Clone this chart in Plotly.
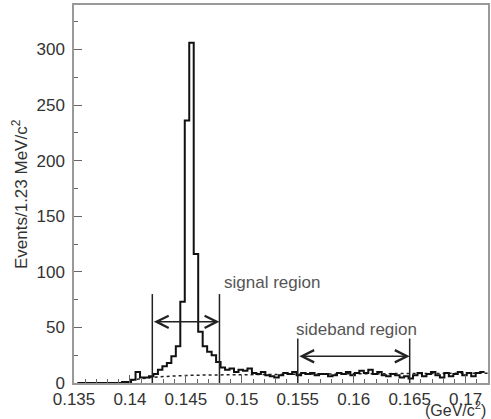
import plotly.graph_objects as go

# Histogram of the D*-D0 mass difference, 0.4 MeV bins
bin_start = 0.1353
bin_width = 0.0004
counts = [
    0, 0, 0, 0, 0, 0, 0, 0, 0, 0,
    1, 1, 3, 10, 5, 5, 6, 8, 12, 15,
    18, 24, 33, 73, 236, 306, 116, 46, 33, 28,
    25, 19, 14, 12, 13, 10, 12, 11, 13, 9,
    8, 10, 7, 6, 5, 7, 9, 8, 10, 7,
    9, 8, 9, 7, 8, 8, 6, 7, 9, 8,
    10, 7, 9, 11, 9, 12, 8, 10, 7, 6,
    8, 7, 5, 6, 4, 7, 9, 6, 8, 10,
    7, 5, 9, 6, 8, 10, 7, 9, 6, 9,
    10,
]

# Background fit (dashed)
bkg_x = [0.1396, 0.1400, 0.1405, 0.1410, 0.1420, 0.1430, 0.1440, 0.1450,
         0.1470, 0.1500, 0.1550, 0.1600, 0.1650, 0.1700, 0.1720]
bkg_y = [0.0, 2.0, 3.2, 4.0, 5.0, 5.8, 6.4, 6.8, 7.2, 7.6, 8.0, 8.3, 8.5, 8.7, 8.8]

# Selection windows
signal_lo, signal_hi = 0.142, 0.148
sideband_lo, sideband_hi = 0.155, 0.165
signal_line_top, signal_arrow_y = 80, 55
sideband_line_top, sideband_arrow_y = 40, 24

x_range = [0.135, 0.172]
y_range = [0, 340]
x_ticks = [0.135, 0.14, 0.145, 0.15, 0.155, 0.16, 0.165, 0.17]
x_tick_text = ["0.135", "0.14", "0.145", "0.15", "0.155", "0.16", "0.165", "0.17"]
y_ticks = [0, 50, 100, 150, 200, 250, 300]

edges = [bin_start + bin_width * i for i in range(len(counts) + 1)]
step_x = [edges[0]] + edges
step_y = [0] + counts + [counts[-1]]

fig = go.Figure()
fig.add_trace(go.Scatter(
    x=bkg_x, y=bkg_y, mode="lines",
    line=dict(color="#222", width=1.5, dash="3px,3px"),
    hoverinfo="skip",
))
fig.add_trace(go.Scatter(
    x=step_x, y=step_y, mode="lines", line_shape="hv",
    line=dict(color="#111", width=2),
))

# Vertical window edges
for xv, top in [(signal_lo, signal_line_top), (signal_hi, signal_line_top),
                (sideband_lo, sideband_line_top), (sideband_hi, sideband_line_top)]:
    fig.add_shape(type="line", x0=xv, x1=xv, y0=0, y1=top, xref="x", yref="y",
                  line=dict(color="#222", width=1.5))

# Double-headed arrows
for lo, hi, yv in [(signal_lo, signal_hi, signal_arrow_y),
                   (sideband_lo, sideband_hi, sideband_arrow_y)]:
    fig.add_annotation(x=hi, y=yv, ax=lo, ay=yv, xref="x", yref="y",
                       axref="x", ayref="y", text="", showarrow=True,
                       arrowhead=5, startarrowhead=5, arrowside="end+start",
                       arrowsize=1.6, startarrowsize=1.6, arrowwidth=1.5,
                       arrowcolor="#222")

label_font = dict(family="Liberation Sans, Arial, sans-serif", size=17, color="#555")
fig.add_annotation(x=0.1482, y=90, xref="x", yref="y", text="signal region",
                   showarrow=False, xanchor="left", yanchor="middle", font=label_font)
fig.add_annotation(x=0.1547, y=48, xref="x", yref="y", text="sideband region",
                   showarrow=False, xanchor="left", yanchor="middle", font=label_font)

axis_font = dict(family="Liberation Sans, Arial, sans-serif", size=17, color="#333")
fig.add_annotation(x=1, y=0, xref="paper", yref="paper", yshift=-14,
                   text="(GeV/c<sup>2</sup>)", showarrow=False,
                   xanchor="right", yanchor="top",
                   font=dict(family="Liberation Sans, Arial, sans-serif", size=16, color="#333"))
fig.add_annotation(x=0, y=0.5, xref="paper", yref="paper", xshift=-54,
                   text="Events/1.23 MeV/c<sup>2</sup>", textangle=-90,
                   showarrow=False, xanchor="center", yanchor="middle", font=axis_font)

fig.update_xaxes(
    range=x_range, tickvals=x_ticks, ticktext=x_tick_text,
    ticks="inside", ticklen=8, tickcolor="#666", tickwidth=1,
    minor=dict(dtick=0.001, ticks="inside", ticklen=4, tickcolor="#666"),
    showline=True, linecolor="#999", linewidth=1.5, mirror=True,
    showgrid=False, zeroline=False, tickfont=axis_font,
)
fig.update_yaxes(
    range=y_range, tickvals=y_ticks,
    ticks="inside", ticklen=8, tickcolor="#666", tickwidth=1,
    minor=dict(dtick=25, ticks="inside", ticklen=4, tickcolor="#666"),
    showline=True, linecolor="#999", linewidth=1.5, mirror=True,
    showgrid=False, zeroline=False, tickfont=axis_font, ticklabelstandoff=4,
)
fig.update_layout(
    width=491, height=419,
    margin=dict(l=74, r=1, t=5, b=36),
    paper_bgcolor="white", plot_bgcolor="white",
    showlegend=False,
)
fig.write_html("out.html")
